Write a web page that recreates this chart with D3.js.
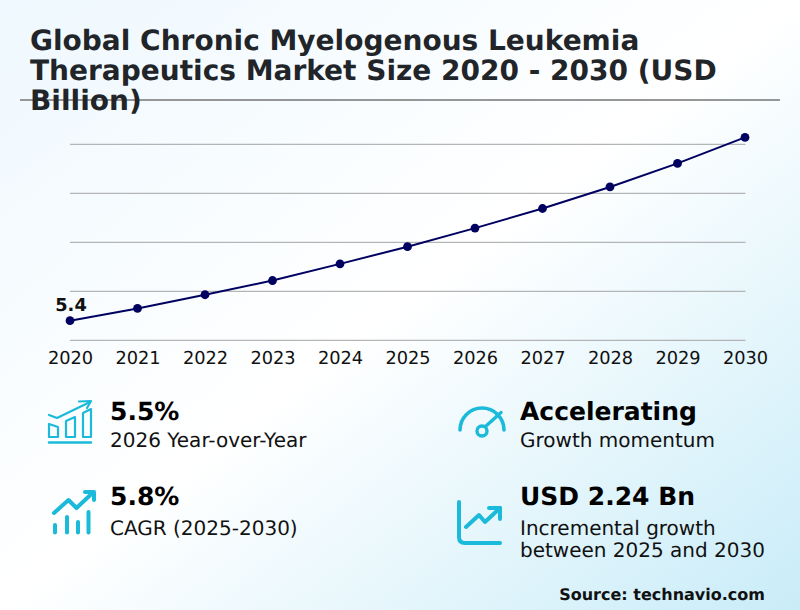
<!DOCTYPE html>
<html><head><meta charset="utf-8">
<script src="https://cdn.jsdelivr.net/npm/d3@7"></script>
<style>html,body{margin:0;padding:0;background:#fff}svg{display:block}text{font-family:"DejaVu Sans",sans-serif;text-rendering:geometricPrecision}</style>
</head><body><div id="chart"></div>
<script>
const years = ["2020","2021","2022","2023","2024","2025","2026","2027","2028","2029","2030"];
const values = [5.4,5.65,5.93,6.22,6.56,6.91,7.29,7.69,8.13,8.61,9.14];
const gridValues = [5,6,7,8,9];
const titleLines = ["Global Chronic Myelogenous Leukemia","Therapeutics Market Size 2020 - 2030 (USD","Billion)"];
const kpiHeads = ["5.5%","5.8%","Accelerating","USD 2.24 Bn"];
const kpiSubs = [["2026 Year-over-Year"],["CAGR (2025-2030)"],["Growth momentum"],["Incremental growth","between 2025 and 2030"]];
const source = "Source: technavio.com";

const svg = d3.select("#chart").append("svg").attr("width",800).attr("height",610);
const defs = svg.append("defs");
const g = defs.append("linearGradient").attr("id","bg").attr("x1","0").attr("y1","0").attr("x2","1").attr("y2","1");
[[0,"#eef8fe"],[0.5,"#ffffff"],[1,"#c9ecf8"]].forEach(d=>g.append("stop").attr("offset",d[0]).attr("stop-color",d[1]));
svg.append("rect").attr("width",800).attr("height",610).attr("fill","url(#bg)");

svg.append("line").attr("x1",20).attr("x2",780).attr("y1",100).attr("y2",100).attr("stroke","#757575").attr("stroke-width",1.6);
svg.append("g").selectAll("text").data(titleLines).join("text")
  .attr("x",30).attr("y",(d,i)=>50+i*30.2).attr("font-size",28).attr("font-weight",700).attr("fill","#212529").text(d=>d);

const x = d3.scalePoint().domain(years).range([70,745]);
const y = d3.scaleLinear().domain([5,9]).range([340.3,144.3]);
svg.append("g").selectAll("line").data(gridValues).join("line")
  .attr("x1",70).attr("x2",745.5).attr("y1",d=>y(d)).attr("y2",d=>y(d)).attr("stroke","#a3a3a3").attr("stroke-width",1);
const axis = svg.append("g").attr("transform","translate(0,340.3)").call(d3.axisBottom(x).tickSize(0).tickPadding(11));
axis.select(".domain").remove();
axis.selectAll("text").attr("font-size",17.8).attr("fill","#111").attr("font-family","DejaVu Sans");
const line = d3.line().x((d,i)=>x(years[i])).y(d=>y(d));
svg.append("path").datum(values).attr("d",line).attr("fill","none").attr("stroke","#000060").attr("stroke-width",2);
svg.append("g").selectAll("circle").data(values).join("circle")
  .attr("cx",(d,i)=>x(years[i])).attr("cy",d=>y(d)).attr("r",4.4).attr("fill","#000060");
svg.append("text").attr("x",x(years[0])+1).attr("y",y(values[0])-9.5).attr("text-anchor","middle")
  .attr("font-size",17.8).attr("font-weight",700).attr("fill","#111").text("5.4");

const kx=[110,110,520,520], hy=[420,504.5,420,504.5];
const subY=[[447],[535],[447],[535,557]];
kpiHeads.forEach((h,i)=>{
  svg.append("text").attr("x",kx[i]).attr("y",hy[i]).attr("font-size",25).attr("font-weight",700).attr("fill","#000").text(h);
  kpiSubs[i].forEach((s,j)=>svg.append("text").attr("x",kx[i]).attr("y",subY[i][j]).attr("font-size",20).attr("fill","#111").text(s));
});
svg.append("text").attr("x",765).attr("y",600).attr("text-anchor","end").attr("font-size",16).attr("font-weight",700).attr("fill","#111").text(source);

const c="#1bbada";
const ic=(d,w=2)=>svg.append("path").attr("d",d).attr("fill","none").attr("stroke",c).attr("stroke-width",w).attr("stroke-linecap","round").attr("stroke-linejoin","round");
// icon 1
ic("M49 442.5H91",2.4);
ic("M49 424V437H58V427Z",2.2);ic("M66 421V437H75V417Z",2.2);ic("M83 413V437H91V409Z",2.2);
ic("M49 415L57 418L90 402",2.2);ic("M79 401.5L91 401L87 408",2.2);
// icon 2
ic("M54 513L68.5 500L76.5 508L93 492.5",4);ic("M85 492H94V500",4);
ic("M55 532.5V525",4);ic("M67 532.5V517",4);ic("M78 532.5V522",4);ic("M88.5 532.5V512",4);
// icon 3
ic("M460 430A22 22 0 0 1 504 430",3.6);ic("M486 426L501 412.5",3.4);
svg.append("circle").attr("cx",482).attr("cy",431).attr("r",5).attr("fill","none").attr("stroke",c).attr("stroke-width",3.4);
// icon 4
ic("M459 502V537Q459 543 465 543H500",4);ic("M466 527L479 515L485 522L500 508",4);ic("M489 508H500V519",4);
</script></body></html>
